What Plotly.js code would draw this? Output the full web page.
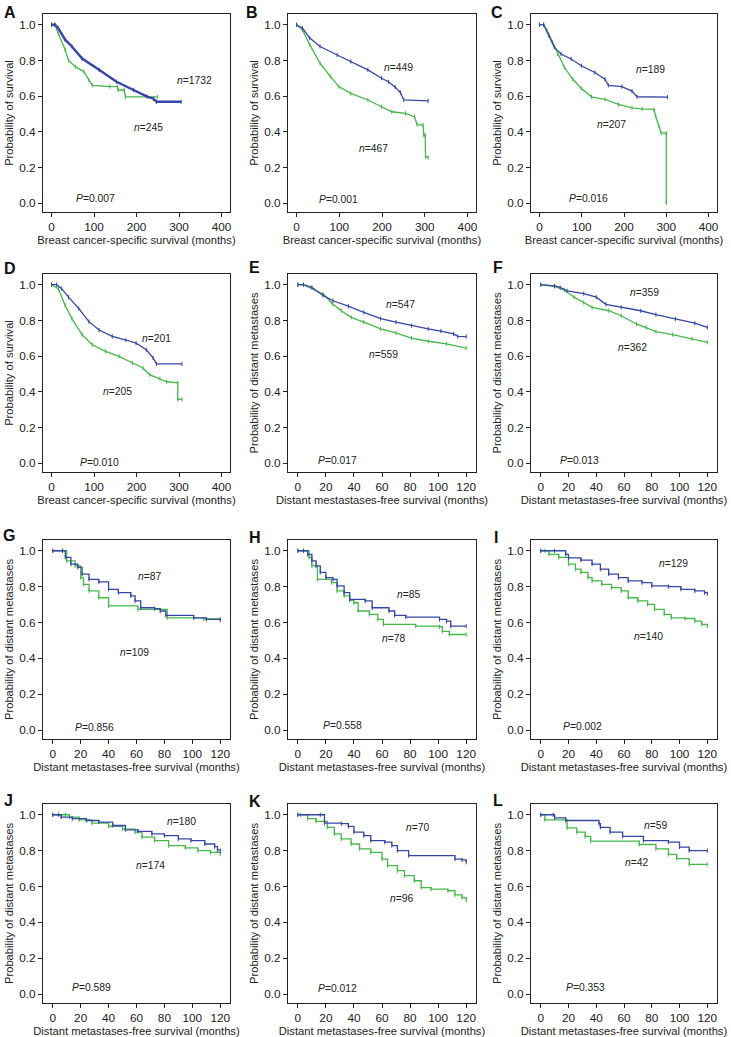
<!DOCTYPE html>
<html>
<head>
<meta charset="utf-8">
<script src="https://cdn.plot.ly/plotly-3.0.1.min.js"></script>
<style>
  html, body { margin: 0; padding: 0; background: #fff; }
  #fig { width: 731px; height: 1037px; }
</style>
</head>
<body>
<div id="fig"></div>
<script>
// Kaplan-Meier curves: time (months) and survival probability.
// Panels A-F have many events, so their samples are joined directly;
// panels G-L are drawn as steps (value drops at the listed time).
const A_blue_t = [0, 8, 16, 32, 48, 72, 112, 153, 193, 225, 240, 247, 305];
const A_blue_s = [1, 1, 0.98, 0.916, 0.878, 0.81, 0.747, 0.68, 0.634, 0.597, 0.585, 0.568, 0.568];
const A_green_t = [0, 8, 16, 32, 40, 56, 76, 88, 96, 137, 155, 157, 171, 174, 249];
const A_green_s = [1, 1, 0.95, 0.86, 0.80, 0.765, 0.737, 0.69, 0.66, 0.653, 0.653, 0.634, 0.634, 0.595, 0.595];

const B_blue_t = [0, 14, 31, 55, 95, 127, 167, 199, 215, 231, 243, 251, 308];
const B_blue_s = [1, 0.98, 0.925, 0.878, 0.83, 0.794, 0.747, 0.70, 0.68, 0.65, 0.62, 0.578, 0.573];
const B_green_t = [0, 14, 31, 55, 79, 99, 127, 167, 199, 223, 255, 276, 282, 296, 298, 301, 302, 308];
const B_green_s = [1, 0.97, 0.887, 0.784, 0.71, 0.653, 0.615, 0.578, 0.54, 0.512, 0.503, 0.484, 0.44, 0.437, 0.38, 0.38, 0.26, 0.255];

const C_blue_t = [0, 10, 22, 35, 51, 75, 99, 131, 155, 163, 195, 219, 231, 303];
const C_blue_s = [1, 1, 0.94, 0.874, 0.836, 0.808, 0.77, 0.732, 0.694, 0.66, 0.653, 0.628, 0.596, 0.594];
const C_green_t = [0, 10, 18, 31, 43, 59, 79, 99, 123, 155, 187, 219, 243, 271, 275, 283, 288, 300, 300];
const C_green_s = [1, 1, 0.968, 0.902, 0.836, 0.76, 0.694, 0.642, 0.596, 0.581, 0.553, 0.534, 0.528, 0.525, 0.487, 0.43, 0.392, 0.392, 0.0];

const D_blue_t = [0, 12, 24, 40, 64, 88, 112, 143, 175, 199, 223, 239, 247, 307];
const D_blue_s = [1, 1, 0.978, 0.93, 0.867, 0.793, 0.746, 0.71, 0.69, 0.672, 0.635, 0.59, 0.556, 0.556];
const D_green_t = [0, 16, 32, 48, 72, 96, 127, 159, 191, 215, 231, 255, 271, 297, 297, 307];
const D_green_s = [1, 0.978, 0.885, 0.81, 0.72, 0.663, 0.626, 0.598, 0.561, 0.533, 0.496, 0.474, 0.456, 0.45, 0.357, 0.357];

const E_blue_t = [0, 4, 10, 18, 25, 36, 47, 59, 70, 81, 93, 102, 111, 114, 120];
const E_blue_s = [1, 1, 0.985, 0.94, 0.91, 0.88, 0.845, 0.81, 0.79, 0.77, 0.752, 0.74, 0.724, 0.71, 0.709];
const E_green_t = [0, 4, 18, 25, 31, 38, 47, 59, 70, 81, 93, 106, 120];
const E_green_s = [1, 1, 0.948, 0.89, 0.854, 0.817, 0.79, 0.752, 0.73, 0.70, 0.683, 0.668, 0.644];

const F_blue_t = [0, 10, 14, 19, 31, 40, 47, 58, 72, 83, 97, 111, 120];
const F_blue_s = [1, 0.994, 0.985, 0.966, 0.95, 0.93, 0.89, 0.873, 0.854, 0.832, 0.808, 0.784, 0.761];
const F_green_t = [0, 10, 17, 24, 31, 37, 49, 58, 69, 76, 83, 95, 109, 120];
const F_green_s = [1, 0.99, 0.97, 0.93, 0.90, 0.873, 0.854, 0.826, 0.78, 0.76, 0.737, 0.72, 0.696, 0.677];

const G_blue_t = [0, 7, 9, 13, 18, 21, 26, 33, 40, 47, 56, 59, 63, 73, 77, 81, 101, 110, 120];
const G_blue_s = [1, 1, 0.963, 0.925, 0.907, 0.87, 0.84, 0.826, 0.785, 0.766, 0.748, 0.72, 0.682, 0.677, 0.664, 0.64, 0.626, 0.617, 0.613];
const G_green_t = [0, 7, 10, 16, 20, 22, 26, 33, 40, 61, 82, 108, 120];
const G_green_s = [1, 1, 0.944, 0.916, 0.85, 0.813, 0.776, 0.738, 0.692, 0.673, 0.626, 0.62, 0.62];

const H_blue_t = [0, 4, 7, 10, 13, 16, 20, 25, 28, 33, 37, 48, 53, 65, 69, 77, 101, 106, 109, 120];
const H_blue_s = [1, 1, 0.98, 0.944, 0.916, 0.879, 0.85, 0.84, 0.804, 0.766, 0.729, 0.72, 0.682, 0.664, 0.64, 0.63, 0.617, 0.607, 0.58, 0.58];
const H_green_t = [0, 4, 8, 10, 14, 24, 28, 33, 37, 40, 43, 51, 57, 61, 84, 101, 103, 108, 120];
const H_green_s = [1, 1, 0.963, 0.916, 0.84, 0.822, 0.776, 0.748, 0.724, 0.71, 0.664, 0.645, 0.617, 0.589, 0.58, 0.576, 0.55, 0.533, 0.533];

const I_blue_t = [0, 10, 18, 20, 29, 37, 43, 49, 56, 63, 73, 80, 92, 101, 111, 118, 120];
const I_blue_s = [1, 1, 0.98, 0.96, 0.948, 0.925, 0.897, 0.87, 0.85, 0.832, 0.822, 0.804, 0.8, 0.785, 0.776, 0.766, 0.76];
const I_green_t = [0, 3, 6, 13, 20, 25, 29, 34, 37, 44, 51, 58, 63, 70, 77, 82, 89, 94, 104, 111, 116, 120];
const I_green_s = [1, 1, 0.98, 0.963, 0.925, 0.897, 0.879, 0.85, 0.832, 0.813, 0.794, 0.776, 0.738, 0.72, 0.701, 0.673, 0.645, 0.626, 0.622, 0.607, 0.589, 0.58];

const J_blue_t = [0, 4, 6, 14, 24, 33, 43, 52, 61, 71, 80, 90, 99, 109, 116, 118, 120];
const J_blue_s = [1, 1, 0.987, 0.978, 0.968, 0.959, 0.94, 0.916, 0.907, 0.893, 0.884, 0.865, 0.856, 0.837, 0.822, 0.804, 0.80];
const J_green_t = [0, 9, 12, 19, 28, 40, 50, 59, 64, 73, 83, 95, 104, 113, 120];
const J_green_s = [1, 1, 0.987, 0.972, 0.953, 0.936, 0.92, 0.903, 0.875, 0.856, 0.828, 0.815, 0.80, 0.79, 0.78];

const K_blue_t = [0, 16, 19, 31, 36, 40, 47, 52, 62, 67, 71, 79, 112, 117, 120];
const K_blue_s = [1, 1, 0.953, 0.95, 0.935, 0.903, 0.884, 0.856, 0.847, 0.828, 0.80, 0.772, 0.753, 0.748, 0.735];
const K_green_t = [0, 2, 7, 13, 21, 26, 31, 38, 44, 52, 60, 64, 71, 76, 83, 88, 95, 107, 112, 117, 120];
const K_green_s = [1, 1, 0.978, 0.963, 0.93, 0.893, 0.865, 0.837, 0.81, 0.79, 0.753, 0.716, 0.688, 0.66, 0.632, 0.594, 0.585, 0.576, 0.553, 0.538, 0.523];

const L_blue_t = [0, 9, 10, 18, 42, 43, 50, 59, 74, 92, 100, 107, 120];
const L_blue_s = [1, 1, 0.983, 0.968, 0.95, 0.93, 0.903, 0.879, 0.856, 0.847, 0.82, 0.80, 0.80];
const L_green_t = [0, 3, 18, 19, 26, 32, 36, 71, 83, 92, 98, 107, 120];
const L_green_s = [1, 0.972, 0.972, 0.927, 0.903, 0.879, 0.853, 0.834, 0.81, 0.779, 0.755, 0.723, 0.723];

const letters = ['A', 'B', 'C', 'D', 'E', 'F', 'G', 'H', 'I', 'J', 'K', 'L'];
const blueN = ['1732', '449', '189', '201', '547', '359', '87', '85', '129', '180', '70', '59'];
const greenN = ['245', '467', '207', '205', '559', '362', '109', '78', '140', '174', '96', '42'];
const pValues = ['0.007', '0.001', '0.016', '0.010', '0.017', '0.013', '0.856', '0.558', '0.002', '0.589', '0.012', '0.353'];

const xTitleBCSS = 'Breast cancer-specific survival (months)';
const xTitleDMFS = 'Distant metastases-free survival (months)';
const xTitleDMFSe = 'Distant mestastases-free survival (months)';
const yTitleS = 'Probability of survival';
const yTitleDM = 'Probability of distant metastases';

const curves = [
  [A_blue_t, A_blue_s, A_green_t, A_green_s],
  [B_blue_t, B_blue_s, B_green_t, B_green_s],
  [C_blue_t, C_blue_s, C_green_t, C_green_s],
  [D_blue_t, D_blue_s, D_green_t, D_green_s],
  [E_blue_t, E_blue_s, E_green_t, E_green_s],
  [F_blue_t, F_blue_s, F_green_t, F_green_s],
  [G_blue_t, G_blue_s, G_green_t, G_green_s],
  [H_blue_t, H_blue_s, H_green_t, H_green_s],
  [I_blue_t, I_blue_s, I_green_t, I_green_s],
  [J_blue_t, J_blue_s, J_green_t, J_green_s],
  [K_blue_t, K_blue_s, K_green_t, K_green_s],
  [L_blue_t, L_blue_s, L_green_t, L_green_s]
];

// label positions in data units: [blue n, green n, P]
const notePos = [
  [[337, 0.685], [229, 0.422], [104, 0.024]],
  [[239, 0.76], [179, 0.306], [99, 0.02]],
  [[263, 0.75], [171, 0.443], [115, 0.025]],
  [[247, 0.70], [155, 0.40], [112, 0.005]],
  [[73, 0.888], [61, 0.608], [28, 0.015]],
  [[74.5, 0.957], [66, 0.65], [28, 0.015]],
  [[69, 0.854], [58.5, 0.435], [30, 0.015]],
  [[79, 0.757], [68, 0.51], [32, 0.028]],
  [[95.5, 0.93], [78, 0.523], [30, 0.019]],
  [[92, 0.964], [70, 0.716], [28, 0.034]],
  [[85, 0.927], [74, 0.533], [28, 0.03]],
  [[83, 0.94], [69, 0.735], [32, 0.037]]
];

const W = 731, H = 1037;
const colPx = [[43, 230], [288, 476], [531, 717]];
const rowPx = [[14, 212], [274, 472], [540, 739], [804, 1003]];
const letterPx = [
  [2, 12], [244, 13], [489, 13],
  [2, 268], [247, 267], [491, 267],
  [1, 535], [247, 537], [492, 537],
  [2, 800], [247, 801], [491, 800]
];

const BLUE = '#3646a4';
const GREEN = '#46b84b';
const FONT = 'Liberation Sans, Arial, Helvetica, sans-serif';
const TICK = 11.8, TITLE = 11.2, NOTE = 10.3;

const data = [];
const layout = {
  width: W, height: H,
  margin: { l: 0, r: 0, t: 0, b: 0 },
  paper_bgcolor: '#fff', plot_bgcolor: '#fff',
  showlegend: false,
  font: { family: FONT, color: '#222' },
  annotations: []
};

curves.forEach(([bt, bs, gt, gs], i) => {
  const k = i === 0 ? '' : String(i + 1);
  const xa = 'x' + k, ya = 'y' + k;
  const bc = i < 4;
  const smooth = i < 6;
  const col = i % 3, row = Math.floor(i / 3);
  const line = (t, s, color, w) => ({
    x: t, y: s, xaxis: xa, yaxis: ya,
    type: 'scatter', mode: 'lines+markers',
    line: { color: color, width: w, shape: smooth ? 'linear' : 'hv' },
    marker: { symbol: 'line-ns-open', size: 3, color: color, line: { color: color, width: 1 } },
    hoverinfo: 'skip'
  });
  data.push(line(gt, gs, GREEN, 1.3));
  data.push(line(bt, bs, BLUE, i === 0 ? 2.4 : 1.3));

  let xTitle = bc ? xTitleBCSS : xTitleDMFS;
  if (i === 4) xTitle = xTitleDMFSe;

  layout['xaxis' + k] = {
    domain: [colPx[col][0] / W, colPx[col][1] / W],
    anchor: ya,
    range: bc ? [-20, 420] : [-7, 127],
    tickvals: bc ? [0, 100, 200, 300, 400] : [0, 20, 40, 60, 80, 100, 120],
    ticks: 'outside', ticklen: 4, tickcolor: '#222',
    showline: true, mirror: true, linecolor: '#222', linewidth: 1,
    showgrid: false, zeroline: false,
    tickfont: { size: TICK, family: FONT, color: '#222' },
    title: { text: xTitle, font: { size: TITLE, family: FONT, color: '#222' }, standoff: 2 }
  };
  layout['yaxis' + k] = {
    domain: [1 - rowPx[row][1] / H, 1 - rowPx[row][0] / H],
    anchor: xa,
    range: [-0.05, 1.06],
    tickvals: [0, 0.2, 0.4, 0.6, 0.8, 1.0],
    tickformat: '.1f',
    ticks: 'outside', ticklen: 4, tickcolor: '#222',
    showline: true, mirror: true, linecolor: '#222', linewidth: 1,
    showgrid: false, zeroline: false,
    tickfont: { size: TICK, family: FONT, color: '#222' },
    title: { text: bc ? yTitleS : yTitleDM, font: { size: TITLE, family: FONT, color: '#222' }, standoff: 3 }
  };

  const [pb, pg, pp] = notePos[i];
  const note = (pos, text) => ({
    x: pos[0], y: pos[1], xref: xa, yref: ya, text: text,
    showarrow: false, font: { size: NOTE, family: FONT, color: '#222' }
  });
  layout.annotations.push(note(pb, '<i>n</i>=' + blueN[i]));
  layout.annotations.push(note(pg, '<i>n</i>=' + greenN[i]));
  layout.annotations.push(note(pp, '<i>P</i>=' + pValues[i]));
  layout.annotations.push({
    x: letterPx[i][0] / W, y: 1 - letterPx[i][1] / H, xref: 'paper', yref: 'paper',
    xanchor: 'left', yanchor: 'middle', text: '<b>' + letters[i] + '</b>',
    showarrow: false, font: { size: 16, family: FONT, color: '#111' }
  });
});

Plotly.newPlot('fig', data, layout, { displayModeBar: false, staticPlot: true });
</script>
</body>
</html>
